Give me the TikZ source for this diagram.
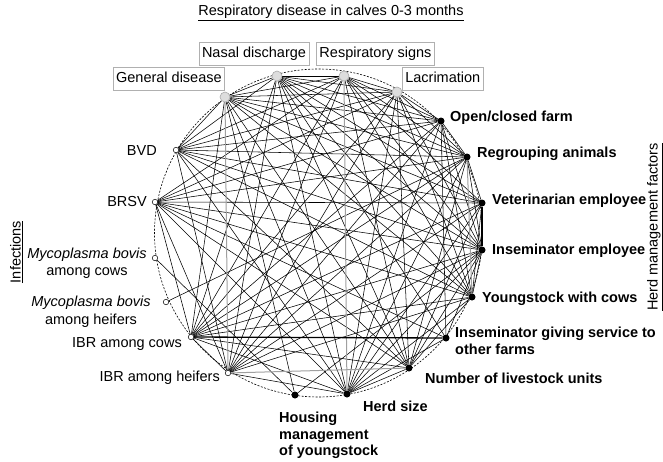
\documentclass[tikz,border=0pt]{standalone}
\usepackage{fontspec}
\setmainfont{Liberation Sans}
\usetikzlibrary{backgrounds}
\definecolor{symfill}{HTML}{DDDDDD}
\definecolor{symline}{HTML}{A8A8A8}
\definecolor{boxline}{HTML}{B0B0B0}
\definecolor{weakline}{HTML}{A0A0A0}

\begin{document}
\begin{tikzpicture}[-, x=1pt, y=-1pt, font=\fontsize{14.5}{17}\selectfont,
  symptom node/.style={circle, draw=symline, fill=symfill, minimum size=10pt, inner sep=0pt, line width=0.6pt},
  infection node/.style={circle, draw, fill=white, minimum size=5.5pt, inner sep=0pt, line width=0.5pt},
  factor node/.style={circle, fill, minimum size=7pt, inner sep=0pt},
  box label/.style={draw=boxline, line width=0.6pt, inner xsep=3pt, inner ysep=0pt, minimum height=23pt, text height=10.5pt, text depth=3pt},
  text label/.style={inner sep=0pt},
  factor label/.style={inner sep=0pt, font=\fontsize{14.5}{17}\selectfont\bfseries},
  link/.style={line width=0.55pt},
  weak link/.style={line width=1pt, weakline},
  strong link/.style={line width=1.3pt}]
\useasboundingbox (0,0) rectangle (663,461);

\node[symptom node] (1) at (225,97) {};
\node[symptom node] (2) at (277,76) {};
\node[symptom node] (3) at (344,76) {};
\node[symptom node] (4) at (397,92) {};
\node[factor node] (5) at (441,121) {};
\node[factor node] (6) at (467,157) {};
\node[factor node] (7) at (482,203) {};
\node[factor node] (8) at (482,250) {};
\node[factor node] (9) at (472,297) {};
\node[factor node] (10) at (446,338) {};
\node[factor node] (11) at (409,368) {};
\node[factor node] (12) at (347,394) {};
\node[factor node] (13) at (295,395) {};
\node[infection node] (14) at (228,373) {};
\node[infection node] (15) at (191,337) {};
\node[infection node] (16) at (166,302) {};
\node[infection node] (17) at (155,258) {};
\node[infection node] (18) at (155,202) {};
\node[infection node] (19) at (176,150) {};

\node[box label, anchor=east] (l1) at (225,78.5) {General disease};
\node[box label] (l2) at (254,54) {Nasal discharge};
\node[box label] (l3) at (375.5,54) {Respiratory signs};
\node[box label, anchor=west] (l4) at (402,78.5) {Lacrimation};
\node[factor label, anchor=base west] (l5) at (450,121) {Open/closed farm};
\node[factor label, anchor=base west] (l6) at (477,157) {Regrouping animals};
\node[factor label, anchor=base west] (l7) at (492,204) {Veterinarian employee};
\node[factor label, anchor=base west] (l8) at (492,254) {Inseminator employee};
\node[factor label, anchor=base west] (l9) at (482,302) {Youngstock with cows};
\node[factor label, anchor=north west, align=left] (l10) at (455,327) {Inseminator giving service to\\other farms};
\node[factor label, anchor=base west] (l11) at (425,383) {Number of livestock units};
\node[factor label, anchor=base west] (l12) at (363,411) {Herd size};
\node[factor label, anchor=north west, align=left, font=\fontsize{14.5}{16.5}\selectfont\bfseries] (l13) at (279,412) {Housing\\management\\of youngstock};
\node[text label, anchor=base east] (l14) at (220,381) {IBR among heifers};
\node[text label, anchor=base east] (l15) at (182,347) {IBR among cows};
\node[text label, anchor=north, align=center, font=\fontsize{14.5}{18}\selectfont] (l16) at (91,296) {\textit{Mycoplasma bovis}\\among heifers};
\node[text label, anchor=north, align=center] (l17) at (87,248) {\textit{Mycoplasma bovis}\\among cows};
\node[text label, anchor=base east] (l18) at (147,206) {BRSV};
\node[text label, anchor=base east] (l19) at (157,155.5) {BVD};

\node[text label, anchor=base] (title) at (331,15.5) {\underline{Respiratory disease in calves 0-3 months}};
\node[text label, anchor=base, rotate=90] (inf) at (20.5,252) {\underline{Infections}};
\node[text label, anchor=base, rotate=90] (herd) at (657.5,227) {\underline{Herd management factors}};

\begin{scope}[on background layer]
\draw[line width=0.6pt, dash pattern=on 2pt off 1.5pt] (318.5,233) circle (164pt);
\path[link]
(1) edge (2) (1) edge (3) (1) edge (4) (1) edge (5) (1) edge (6) (1) edge (7)
(1) edge (8) (1) edge (9) (1) edge (11) (1) edge (12) (1) edge (15) (1) edge (13)
(2) edge (3) (2) edge (4) (2) edge (5) (2) edge (6) (2) edge (7) (2) edge (8)
(2) edge (9) (2) edge (10) (2) edge (11) (2) edge (12) (2) edge (15) (2) edge (14) (2) edge (19)
(3) edge (4) (3) edge (5) (3) edge (6) (3) edge (7) (3) edge (8) (3) edge (9)
(3) edge (11) (3) edge (15) (3) edge (14) (3) edge (19) (3) edge (18)
(4) edge (5) (4) edge (6) (4) edge (8) (4) edge (9) (4) edge (12) (4) edge (15)
(4) edge (14) (4) edge (19) (4) edge (18) (4) edge (11)
(19) edge (5) (19) edge (6) (19) edge (7) (19) edge (8) (19) edge (9) (19) edge (12)
(19) edge (11) (19) edge (14) (19) edge (1)
(18) edge (5) (18) edge (6) (18) edge (8) (18) edge (9) (18) edge (11) (18) edge (12)
(18) edge (14) (18) edge (15) (18) edge (10) (18) edge (7)
(17) edge (13)
(16) edge (6)
(15) edge (5) (15) edge (6) (15) edge (7) (15) edge (8) (15) edge (9) (15) edge (11)
(15) edge (12) (15) edge (14)
(14) edge (6) (14) edge (7) (14) edge (8) (14) edge (9) (14) edge (12) (14) edge (5)
(5) edge (10) (5) edge (6) (5) edge (9) (5) edge (12) (5) edge (8)
(6) edge (7) (6) edge (8) (6) edge (11) (6) edge (12)
(7) edge (9) (7) edge (12) (7) edge (11)
(8) edge (9) (8) edge (12) (8) edge (11) (8) edge (10) (8) edge (13)
(9) edge (11) (9) edge (12)
(11) edge (12)
(12) edge (10);
\path[weak link]
(1) edge (14) (3) edge (12) (14) edge (11) (6) edge (9);
\path[strong link]
(15) edge (10) (7) edge (8);
\end{scope}
\end{tikzpicture}
\end{document}
